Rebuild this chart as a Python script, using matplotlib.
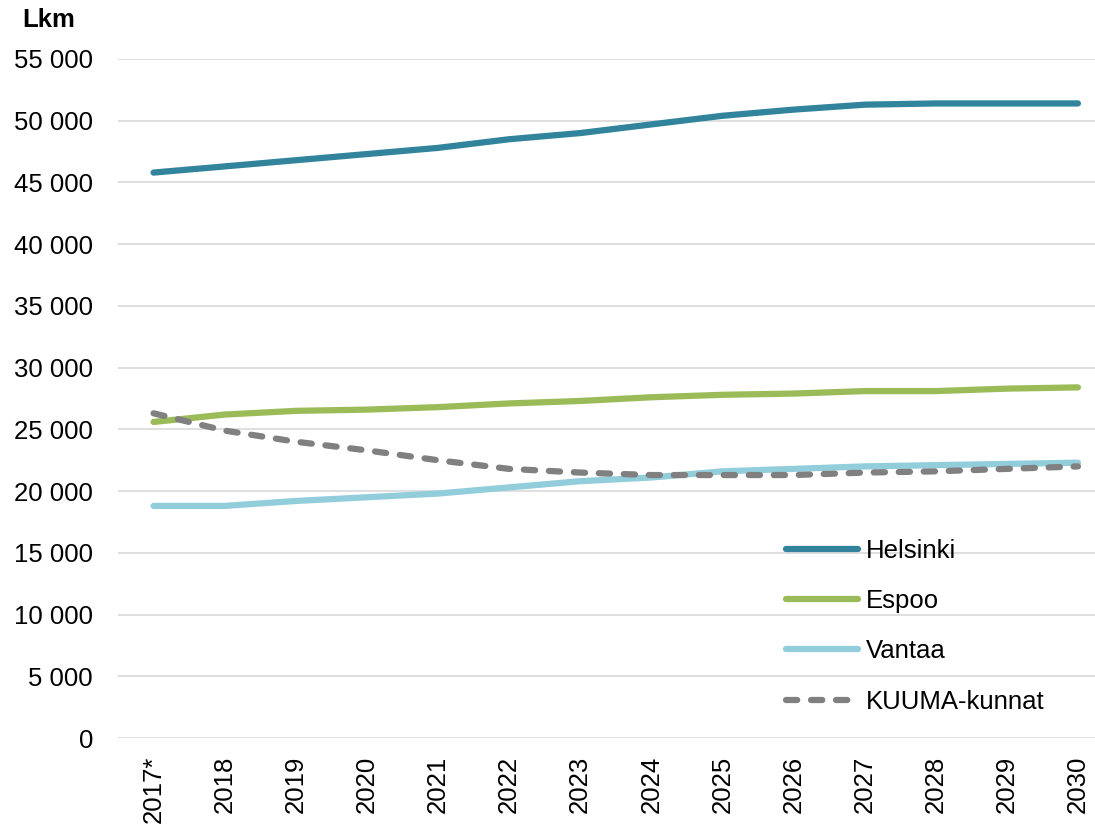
import matplotlib.pyplot as plt
from matplotlib.ticker import FuncFormatter

years = ["2017*", "2018", "2019", "2020", "2021", "2022", "2023",
         "2024", "2025", "2026", "2027", "2028", "2029", "2030"]

helsinki = [45800, 46300, 46800, 47300, 47800, 48500, 49000,
            49700, 50400, 50900, 51300, 51400, 51400, 51400]
espoo = [25600, 26200, 26500, 26600, 26800, 27100, 27300,
         27600, 27800, 27900, 28100, 28100, 28300, 28400]
vantaa = [18800, 18800, 19200, 19500, 19800, 20300, 20800,
          21100, 21600, 21800, 22000, 22100, 22200, 22300]
kuuma = [26300, 24900, 24000, 23300, 22500, 21800, 21500,
         21300, 21300, 21300, 21500, 21600, 21800, 22000]

plt.rcParams["font.family"] = ["Liberation Sans", "DejaVu Sans"]

fig = plt.figure(figsize=(10.95, 8.25), dpi=100)
ax = fig.add_axes([118 / 1095, 87 / 825, 1 - 118 / 1095, 679 / 825])

x = range(len(years))
ax.plot(x, helsinki, color="#31849B", lw=4.5, solid_capstyle="round", label="Helsinki")
ax.plot(x, espoo, color="#9BBB59", lw=4.5, solid_capstyle="round", label="Espoo")
ax.plot(x, vantaa, color="#92CDDC", lw=4.5, solid_capstyle="round", label="Vantaa")
ax.plot(x, kuuma, color="#808080", lw=4.5, dashes=(1.8, 2.2),
        dash_capstyle="round", label="KUUMA-kunnat")

ax.set_xlim(-0.5, 13.24)
ax.set_ylim(0, 55000)
ax.set_yticks(range(0, 55001, 5000))
ax.yaxis.set_major_formatter(FuncFormatter(lambda v, p: f"{int(v):,}".replace(",", " ")))
ax.set_xticks(list(x))
ax.set_xticklabels(years, rotation=90)

ax.grid(axis="y", color="#D9D9D9", lw=1.2)
ax.set_axisbelow(True)
for s in ax.spines.values():
    s.set_visible(False)
ax.tick_params(axis="both", length=0, labelsize=18.5)
ax.tick_params(axis="y", pad=18)
ax.tick_params(axis="x", pad=13)

fig.text(22 / 1095, 1 - 20 / 825, "Lkm", fontsize=18.5, fontweight="bold", va="center")

ax.legend(loc="upper left", bbox_to_anchor=(786 / 1095, 1 - 539 / 825),
          bbox_transform=fig.transFigure, frameon=False, fontsize=18.5,
          handlelength=2.8, handletextpad=0.3, labelspacing=1.02,
          borderpad=0, borderaxespad=0)

fig.savefig("out.png", dpi=100)
